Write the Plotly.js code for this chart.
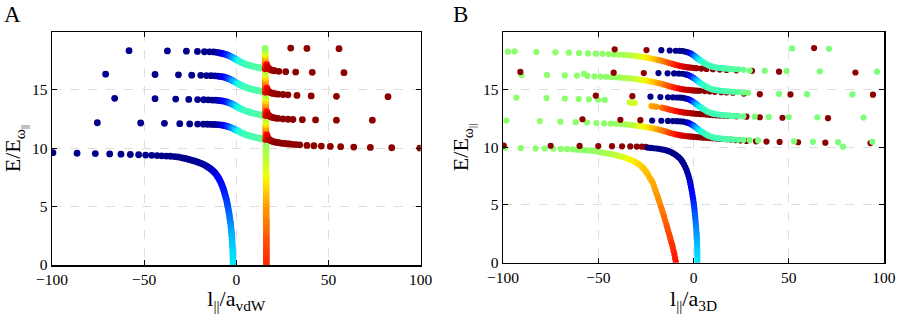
<!DOCTYPE html>
<html><head><meta charset="utf-8">
<script src="https://cdn.plot.ly/plotly-3.0.1.min.js"></script>
<style>html,body{margin:0;padding:0;background:#fff}#chart{width:897px;height:314px}</style>
</head><body><div id="chart"></div>
<script>
// ---------- tick labels / axes ----------
const xTickVals = [-100, -50, 0, 50, 100];
const yTickVals = [0, 5, 10, 15];
const xTitleA = 'l<sub>||</sub>/a<sub>vdW</sub>';
const xTitleB = 'l<sub>||</sub>/a<sub>3D</sub>';
const yTitle = 'E/E<sub>ω<sub>||</sub></sub>';
const panelLabels = ['A', 'B'];

// ---------- Panel A: rows are [l/a, E, colour value] ----------
const A_bound = [[-99.5,9.62,.01],[-86.4,9.57,.01],[-76.5,9.54,.01],[-68.7,9.51,.01],[-62.6,9.49,.01],[-57.5,9.46,.01],[-53.0,9.44,.01],[-49.2,9.41,.01],[-45.9,9.39,.01],[-43.0,9.37,.01],[-40.5,9.35,.01],[-38.0,9.33,.01],[-35.8,9.31,.01],[-33.6,9.28,.01],[-31.7,9.25,.01],[-30.0,9.2,.01],[-28.5,9.15,.01],[-27.1,9.1,.01],[-25.8,9.04,.01],[-24.5,8.98,.01],[-23.2,8.93,.02],[-22.0,8.87,.02],[-20.8,8.8,.02],[-19.6,8.73,.02],[-18.5,8.66,.03],[-17.4,8.58,.03],[-16.3,8.48,.03],[-15.3,8.38,.04],[-14.3,8.27,.05],[-13.4,8.16,.05],[-12.5,8.03,.06],[-11.7,7.9,.07],[-10.9,7.74,.08],[-10.2,7.58,.1],[-9.5,7.41,.11],[-8.9,7.23,.12],[-8.3,7.04,.13],[-7.8,6.84,.13],[-7.3,6.63,.14],[-6.8,6.41,.14],[-6.4,6.19,.15],[-6.0,5.96,.16],[-5.6,5.73,.17],[-5.2,5.49,.18],[-4.9,5.25,.19],[-4.6,5.0,.2],[-4.3,4.74,.21],[-4.0,4.47,.22],[-3.7,4.2,.23],[-3.5,3.93,.24],[-3.2,3.65,.25],[-3.0,3.37,.27],[-2.8,3.08,.28],[-2.6,2.79,.29],[-2.5,2.5,.3],[-2.3,2.2,.31],[-2.2,1.9,.32],[-2.1,1.6,.32],[-2.0,1.3,.33],[-1.9,1.0,.34],[-1.85,0.7,.34],[-1.8,0.4,.35],[-1.75,0.1,.35]];
const A_left1 = [[-75.4,12.18,.01],[-51.9,12.16,.01],[-39.0,12.13,.01],[-30.7,12.1,.01],[-25.3,12.08,.01],[-21.0,12.07,.01],[-17.9,12.06,.01],[-15.7,12.05,.01],[-13.7,12.04,.01],[-11.9,12.03,.02],[-10.3,12.02,.02],[-8.9,12.0,.05],[-7.6,11.97,.08],[-6.4,11.93,.11],[-5.2,11.88,.15],[-4.1,11.83,.19],[-3.0,11.77,.23],[-1.9,11.7,.27],[-0.8,11.61,.31],[0.3,11.52,.35],[1.4,11.43,.38],[2.5,11.34,.4],[3.6,11.26,.41],[4.7,11.19,.42],[5.9,11.12,.43],[7.1,11.06,.43],[8.3,11.01,.44],[9.5,10.96,.44],[10.7,10.91,.44],[11.9,10.87,.45],[13.1,10.83,.45],[14.3,10.79,.46],[15.3,10.76,.47]];
const A_left2 = [[-66.0,14.27,.01],[-44.1,14.24,.01],[-32.9,14.21,.01],[-25.8,14.18,.01],[-21.0,14.16,.01],[-17.7,14.15,.01],[-15.2,14.14,.01],[-13.0,14.12,.01],[-11.2,14.11,.02],[-9.8,14.1,.03],[-8.9,14.08,.05],[-7.6,14.05,.08],[-6.4,14.01,.11],[-5.2,13.96,.15],[-4.1,13.9,.19],[-3.0,13.83,.23],[-1.9,13.75,.27],[-0.8,13.66,.31],[0.3,13.56,.35],[1.4,13.46,.38],[2.5,13.37,.4],[3.6,13.29,.41],[4.7,13.22,.42],[5.9,13.15,.43],[7.1,13.09,.43],[8.3,13.04,.44],[9.5,12.99,.44],[10.7,12.94,.44],[11.9,12.9,.45],[13.1,12.86,.45],[14.3,12.82,.46],[15.3,12.79,.47]];
const A_left3 = [[-70.9,16.34,.01],[-44.1,16.31,.01],[-31.4,16.28,.01],[-24.2,16.25,.01],[-19.3,16.24,.01],[-16.2,16.22,.01],[-13.7,16.21,.01],[-11.6,16.2,.02],[-10.0,16.18,.03],[-8.9,16.15,.05],[-7.6,16.12,.08],[-6.4,16.08,.11],[-5.2,16.02,.15],[-4.1,15.95,.19],[-3.0,15.87,.23],[-1.9,15.78,.27],[-0.8,15.68,.31],[0.3,15.58,.35],[1.4,15.48,.38],[2.5,15.39,.4],[3.6,15.31,.41],[4.7,15.24,.42],[5.9,15.17,.43],[7.1,15.11,.43],[8.3,15.06,.44],[9.5,15.01,.44],[10.7,14.97,.44],[11.9,14.93,.45],[13.1,14.89,.45],[14.3,14.85,.46],[15.3,14.82,.47]];
const A_left4 = [[-58.2,18.35,.01],[-37.4,18.33,.01],[-27.1,18.31,.01],[-21.1,18.28,.01],[-17.3,18.26,.01],[-14.5,18.25,.01],[-12.3,18.24,.01],[-10.4,18.2,.03],[-8.9,18.15,.05],[-7.6,18.11,.08],[-6.4,18.06,.11],[-5.2,18.0,.15],[-4.1,17.93,.19],[-3.0,17.85,.23],[-1.9,17.76,.27],[-0.8,17.66,.31],[0.3,17.56,.35],[1.4,17.46,.38],[2.5,17.37,.4],[3.6,17.29,.41],[4.7,17.22,.42],[5.9,17.15,.43],[7.1,17.09,.43],[8.3,17.04,.44],[9.5,16.99,.44],[10.7,16.95,.44],[11.9,16.91,.45],[13.1,16.87,.45],[14.3,16.84,.46],[15.3,16.81,.47]];
const A_vert = [[16.3,0,.87],[16.3,0.25,.87],[16.3,0.5,.86],[16.3,0.75,.86],[16.3,1,.85],[16.3,1.25,.85],[16.3,1.5,.84],[16.3,1.75,.84],[16.3,2,.83],[16.3,2.25,.83],[16.3,2.5,.82],[16.3,2.75,.81],[16.3,3,.8],[16.3,3.25,.8],[16.3,3.5,.79],[16.3,3.75,.78],[16.2,4,.78],[16.2,4.25,.77],[16.2,4.5,.76],[16.2,4.75,.76],[16.2,5,.75],[16.2,5.25,.74],[16.2,5.5,.73],[16.2,5.75,.72],[16.2,6,.71],[16.2,6.25,.7],[16.2,6.5,.69],[16.2,6.75,.68],[16.2,7,.67],[16.2,7.25,.66],[16.2,7.5,.65],[16.2,7.75,.64],[16.1,8,.63],[16.1,8.25,.62],[16.1,8.5,.61],[16.1,8.75,.6],[16.1,9,.59],[16.1,9.25,.58],[16.1,9.5,.57],[16.1,9.75,.56],[16.1,10,.55],[16.1,10.25,.54],[16.1,10.5,.53],[16.0,10.75,.92],[16.0,11.0,.88],[16.0,11.25,.84],[16.0,11.5,.79],[16.0,11.75,.74],[16.0,12.0,.68],[16.0,12.25,.62],[16.0,12.55,.57],[15.9,12.8,.92],[15.9,13.05,.88],[15.9,13.3,.84],[15.9,13.55,.79],[15.9,13.8,.74],[15.9,14.05,.68],[15.9,14.3,.62],[15.9,14.55,.57],[15.8,14.8,.92],[15.8,15.05,.88],[15.8,15.3,.84],[15.8,15.55,.79],[15.8,15.8,.74],[15.8,16.05,.68],[15.8,16.3,.62],[15.8,16.55,.57],[15.7,16.8,.92],[15.7,17.05,.88],[15.7,17.3,.82],[15.7,17.55,.76],[15.7,17.8,.7],[15.7,18.05,.64],[15.7,18.3,.58],[15.6,18.55,.53]];
const A_right1 = [[16.6,11.15,.9],[17.0,10.92,.92],[17.5,10.8,.94],[18.1,10.71,.95],[18.8,10.64,.96],[19.6,10.59,.97],[20.4,10.55,.98],[21.3,10.52,.99],[22.3,10.49,.99],[23.4,10.46,.99],[24.6,10.43,.99],[25.9,10.41,.99],[27.3,10.38,.99],[28.8,10.36,.99],[30.5,10.33,.99],[32.4,10.31,.99],[34.4,10.29,.99],[38.3,10.24,.99],[42.1,10.21,.99],[46.1,10.18,.99],[51.0,10.15,.99],[56.6,10.13,.99],[63.7,10.1,.99],[72.7,10.07,.99],[84.3,10.04,.99],[99.5,10.01,.99]];
const A_right2 = [[16.6,13.1,.9],[17.0,12.92,.92],[17.6,12.8,.94],[18.3,12.72,.95],[19.1,12.66,.96],[20.0,12.62,.97],[21.2,12.58,.98],[22.6,12.55,.99],[25.3,12.51,.99],[28.0,12.48,.99],[30.7,12.46,.99],[35.8,12.44,.99],[43.0,12.42,.99],[54.3,12.4,.99],[73.8,12.4,.99]];
const A_right3 = [[16.6,15.15,.9],[17.0,14.97,.92],[17.6,14.85,.94],[18.3,14.77,.95],[19.1,14.72,.96],[20.0,14.69,.97],[21.2,14.66,.98],[22.6,14.63,.99],[25.3,14.6,.99],[28.0,14.57,.99],[32.9,14.52,.99],[40.6,14.48,.99],[54.3,14.44,.99],[82.3,14.41,.99]];
const A_right4 = [[16.5,17.15,.9],[16.9,16.96,.92],[17.5,16.83,.94],[18.1,16.75,.95],[18.9,16.7,.96],[19.8,16.66,.97],[20.8,16.63,.98],[23.1,16.58,.99],[26.8,16.55,.99],[32.2,16.52,.99],[41.2,16.5,.99],[58.4,16.47,.99]];
const A_right5 = [[29.5,18.57,.99],[38.3,18.54,.99],[55.7,18.52,.99]];

// ---------- Panel B ----------
const B_g0 = [[-99.1,9.93,.52],[-90.7,9.91,.52],[-82.9,9.89,.52],[-78.1,9.88,.52],[-73.6,9.86,.52],[-69.7,9.84,.52],[-66.4,9.82,.52],[-63.4,9.8,.52],[-61.0,9.78,.52],[-58.9,9.76,.52],[-57.0,9.74,.52],[-55.2,9.72,.52],[-53.6,9.69,.53],[-52.1,9.66,.53],[-50.6,9.62,.53],[-49.2,9.57,.54],[-47.8,9.53,.54],[-46.4,9.49,.55],[-45.0,9.45,.55],[-43.6,9.41,.56],[-42.3,9.36,.57],[-41.0,9.31,.58],[-39.7,9.26,.59],[-38.4,9.2,.6],[-37.1,9.14,.61],[-35.9,9.08,.62],[-34.8,9.02,.63],[-33.7,8.95,.64],[-32.7,8.88,.65],[-31.7,8.8,.65],[-30.8,8.73,.66],[-29.9,8.65,.67],[-29.1,8.56,.67],[-28.3,8.47,.68],[-27.6,8.38,.68],[-26.9,8.27,.69],[-26.3,8.16,.69],[-25.7,8.04,.7],[-25.1,7.91,.7],[-24.5,7.77,.71],[-23.9,7.62,.71],[-23.0,7.35,.72],[-22.1,7.12,.72],[-21.3,6.9,.73],[-20.8,6.65,.73],[-20.3,6.4,.74],[-19.8,6.15,.74],[-19.2,5.9,.75],[-18.7,5.65,.75],[-18.2,5.4,.76],[-17.7,5.17,.76],[-17.2,4.9,.77],[-16.7,4.65,.78],[-16.2,4.4,.78],[-15.7,4.15,.79],[-15.3,3.9,.8],[-14.8,3.6,.8],[-14.2,3.3,.81],[-13.8,3.05,.82],[-13.4,2.8,.82],[-12.9,2.55,.83],[-12.5,2.29,.84],[-12.1,2.05,.84],[-11.7,1.8,.85],[-11.2,1.55,.86],[-10.8,1.29,.86],[-10.4,1.0,.87],[-10.0,0.7,.88],[-9.7,0.4,.88],[-9.3,0.1,.89]];
const B_r0 = [[-99.6,10.13,.99],[-75.0,10.12,.99],[-59.8,10.1,.99],[-50.0,10.09,.99],[-42.8,10.08,.99],[-37.5,10.07,.99],[-33.2,10.06,.99],[-29.8,10.05,.99],[-27.1,10.04,.99],[-25.1,10.02,.99],[-23.9,9.95,.01],[-22.3,9.93,.01],[-20.7,9.9,.01],[-19.1,9.87,.01],[-17.5,9.83,.01],[-15.9,9.78,.01],[-14.4,9.72,.01],[-13.0,9.65,.01],[-11.8,9.57,.01],[-10.8,9.48,.01],[-9.8,9.38,.01],[-8.9,9.27,.01],[-8.0,9.15,.01],[-7.2,9.03,.01],[-6.4,8.87,.01],[-5.7,8.7,.01],[-5.0,8.5,.01],[-4.3,8.27,.02],[-3.7,8.04,.02],[-3.2,7.8,.03],[-2.7,7.55,.04],[-2.3,7.3,.05],[-1.9,7.05,.06],[-1.6,6.8,.08],[-1.3,6.55,.09],[-1.0,6.3,.1],[-0.7,6.03,.12],[-0.45,5.76,.13],[-0.2,5.5,.14],[0.05,5.23,.16],[0.25,4.96,.17],[0.45,4.7,.18],[0.6,4.43,.19],[0.75,4.16,.21],[0.9,3.9,.22],[1.05,3.63,.23],[1.2,3.36,.24],[1.35,3.1,.25],[1.5,2.83,.26],[1.6,2.56,.27],[1.7,2.3,.28],[1.78,2.03,.29],[1.85,1.77,.3],[1.9,1.5,.31],[1.95,1.23,.32],[2.0,0.96,.33],[2.02,0.7,.33],[2.04,0.43,.34],[2.05,0.16,.35]];
const B_g1 = [[-98.2,12.3,.52],[-80.7,12.25,.52],[-69.9,12.2,.52],[-61.8,12.16,.52],[-55.9,12.12,.52],[-51.0,12.08,.52],[-46.9,12.05,.52],[-43.5,12.03,.53],[-40.6,12.01,.53],[-38.0,11.99,.54],[-35.7,11.96,.55],[-33.6,11.93,.56],[-31.7,11.9,.58],[-29.9,11.86,.6],[-28.2,11.82,.62],[-26.6,11.78,.64],[-25.0,11.74,.65],[-23.5,11.7,.67],[-22.0,11.65,.69],[-20.6,11.6,.71],[-19.2,11.55,.73],[-17.9,11.5,.75],[-16.6,11.44,.77],[-15.3,11.38,.79],[-14.0,11.32,.81],[-12.8,11.26,.83],[-11.6,11.2,.85],[-10.4,11.15,.87],[-9.2,11.1,.88],[-8.0,11.06,.9],[-6.8,11.02,.91],[-5.6,10.99,.92],[-4.4,10.96,.93],[-3.2,10.94,.94],[-2.0,10.92,.95],[-0.8,10.9,.96],[0.4,10.88,.97],[1.8,10.87,.98],[3.3,10.85,.99],[5.0,10.82,.99],[6.8,10.8,.99],[8.5,10.78,.99],[10.2,10.76,.99],[12.0,10.74,.99],[13.8,10.72,.99],[15.6,10.7,.99],[17.3,10.68,.99],[19.5,10.65,.99],[22.0,10.61,.99],[24.6,10.57,.99],[27.8,10.53,.99],[32.8,10.5,.99],[38.3,10.48,.99],[45.2,10.45,.99],[54.9,10.42,.99],[69.2,10.38,.99],[92.9,10.35,.99]];
const B_g2 = [[-93.0,14.28,.52],[-77.2,14.24,.52],[-67.6,14.2,.52],[-60.3,14.16,.52],[-54.9,14.13,.52],[-50.1,14.1,.52],[-46.6,14.08,.52],[-33.5,13.86,.59],[-32.2,13.84,.6],[-30.9,13.82,.61],[-22.1,13.55,.73],[-20.8,13.52,.74],[-19.5,13.48,.75],[-16.6,13.42,.79],[-15.3,13.37,.81],[-14.0,13.31,.83],[-12.8,13.26,.85],[-11.6,13.21,.86],[-10.4,13.16,.87],[-9.2,13.12,.89],[-8.0,13.08,.9],[-6.8,13.04,.91],[-5.6,13.01,.92],[-4.4,12.98,.93],[-3.2,12.96,.94],[-2.0,12.94,.95],[-0.8,12.92,.96],[0.4,12.9,.97],[1.8,12.88,.98],[3.3,12.86,.99],[5.0,12.84,.99],[6.8,12.81,.99],[8.5,12.79,.99],[10.2,12.77,.99],[12.0,12.75,.99],[13.8,12.73,.99],[15.9,12.71,.99],[18.1,12.69,.99],[22.5,12.66,.99],[27.8,12.63,.99],[34.8,12.58,.99],[46.7,12.54,.99],[70.6,12.5,.99]];
const B_g3 = [[-90.3,16.23,.52],[-76.9,16.23,.52],[-67.6,16.2,.52],[-61.2,16.18,.52],[-57.5,16.33,.52],[-55.7,16.15,.52],[-52.0,16.12,.52],[-48.8,16.1,.52],[-46.0,16.08,.52],[-43.5,16.06,.53],[-41.1,16.04,.53],[-38.9,16.02,.54],[-36.8,15.99,.55],[-34.8,15.96,.56],[-32.8,15.93,.57],[-31.0,15.9,.58],[-29.3,15.86,.6],[-27.7,15.82,.62],[-26.1,15.78,.64],[-24.6,15.74,.65],[-23.1,15.7,.67],[-21.6,15.65,.69],[-20.2,15.6,.71],[-18.8,15.55,.73],[-17.5,15.5,.75],[-16.2,15.44,.77],[-14.9,15.38,.79],[-13.6,15.32,.81],[-12.4,15.26,.83],[-11.2,15.2,.85],[-10.0,15.15,.87],[-8.8,15.1,.88],[-7.6,15.06,.9],[-6.4,15.02,.91],[-5.2,14.99,.92],[-4.0,14.96,.93],[-2.8,14.94,.94],[-1.6,14.92,.95],[-0.4,14.9,.96],[0.8,14.89,.97],[2.0,14.88,.98],[3.3,14.87,.99],[5.9,14.84,.99],[8.5,14.81,.99],[11.2,14.78,.99],[14.6,14.75,.99],[17.3,14.72,.99],[20.7,14.7,.99],[26.4,14.63,.99],[34.8,14.58,.99],[50.9,14.55,.99],[94.2,14.53,.99]];
const B_g4 = [[-97.4,18.25,.52],[-93.9,18.27,.52],[-82.5,18.22,.52],[-72.5,18.19,.52],[-65.5,18.16,.52],[-60.1,18.13,.52],[-55.4,18.1,.52],[-51.3,18.08,.52],[-47.8,18.06,.52],[-44.6,18.04,.53],[-41.8,18.02,.53],[-39.2,18.0,.54],[-36.8,17.98,.55],[-34.6,17.95,.56],[-32.6,17.92,.57],[-30.8,17.89,.58],[-29.1,17.85,.6],[-27.5,17.81,.62],[-25.9,17.77,.64],[-24.4,17.73,.65],[-22.9,17.69,.67],[-21.4,17.64,.69],[-20.0,17.59,.71],[-18.6,17.54,.73],[-17.3,17.49,.75],[-16.0,17.43,.77],[-14.7,17.37,.79],[-13.4,17.31,.81],[-12.2,17.25,.83],[-11.0,17.19,.85],[-9.8,17.13,.87],[-8.6,17.08,.88],[-7.4,17.03,.9],[-6.2,16.99,.91],[-5.0,16.95,.92],[-3.8,16.92,.93],[-2.6,16.89,.94],[-1.4,16.87,.95],[0.0,16.85,.96],[1.5,16.82,.97],[4.1,16.79,.99],[6.8,16.76,.99],[10.2,16.73,.99],[13.8,16.7,.99],[17.3,16.67,.99],[22.5,16.64,.99],[30.7,16.59,.99],[44.9,16.52,.99],[85.0,16.45,.99]];
const B_r1 = [[-58.3,12.41,.99],[-38.4,12.36,.99],[-27.9,12.33,.99],[-21.7,12.3,.01],[-16.9,12.28,.01],[-13.4,12.26,.01],[-10.8,12.25,.01],[-8.7,12.24,.01],[-7.0,12.23,.01],[-5.5,12.21,.01],[-4.0,12.15,.01],[-3.0,12.11,.03],[-2.0,12.04,.08],[-1.0,11.95,.14],[0.0,11.85,.2],[1.0,11.73,.26],[2.0,11.6,.31],[3.0,11.47,.35],[4.0,11.36,.38],[5.0,11.26,.4],[6.0,11.15,.41],[7.0,11.05,.42],[8.0,10.97,.43],[9.0,10.91,.43],[10.0,10.86,.43],[11.0,10.82,.43],[12.2,10.79,.43],[13.4,10.76,.43],[14.7,10.74,.43],[16.1,10.71,.44],[17.6,10.69,.44],[19.3,10.67,.45],[21.2,10.65,.45],[23.5,10.63,.46],[26.2,10.61,.48],[29.5,10.6,.5],[33.9,10.58,.5],[52.8,10.5,.5],[62.7,10.46,.5],[75.9,10.43,.5],[78.5,10.04,.5],[93.9,10.46,.5]];
const B_r2 = [[-51.3,14.45,.99],[-32.1,14.4,.99],[-22.6,14.36,.01],[-17.4,14.33,.01],[-13.4,14.31,.01],[-10.8,14.3,.01],[-8.7,14.29,.01],[-7.0,14.28,.01],[-5.5,14.26,.01],[-4.0,14.2,.01],[-3.0,14.16,.03],[-2.0,14.09,.08],[-1.0,14.0,.14],[0.0,13.9,.2],[1.0,13.78,.26],[2.0,13.65,.31],[3.0,13.52,.35],[4.0,13.41,.38],[5.0,13.31,.4],[6.0,13.2,.41],[7.0,13.1,.42],[8.0,13.02,.43],[9.0,12.96,.43],[10.0,12.91,.43],[11.0,12.87,.43],[12.2,12.84,.43],[13.4,12.81,.43],[14.7,12.79,.43],[16.1,12.76,.44],[17.6,12.74,.44],[19.3,12.72,.45],[21.2,12.7,.45],[23.5,12.68,.46],[26.2,12.66,.48],[32.1,12.63,.5],[39.5,12.6,.5],[50.0,12.6,.5],[65.0,12.58,.5],[89.3,12.55,.5]];
const B_r3 = [[-90.9,16.5,.99],[-41.9,16.43,.99],[-26.1,16.4,.99],[-18.4,16.4,.01],[-13.6,16.38,.01],[-10.2,16.37,.01],[-7.8,16.36,.01],[-5.8,16.34,.01],[-4.0,16.28,.01],[-3.0,16.24,.03],[-2.0,16.17,.08],[-1.0,16.08,.14],[0.0,15.98,.2],[1.0,15.86,.26],[2.0,15.73,.31],[3.0,15.6,.35],[4.0,15.49,.38],[5.0,15.39,.4],[6.0,15.28,.41],[7.0,15.18,.42],[8.0,15.1,.43],[9.0,15.04,.43],[10.0,14.99,.43],[11.0,14.95,.43],[12.2,14.92,.43],[13.4,14.89,.43],[14.7,14.87,.43],[16.1,14.84,.44],[17.6,14.82,.44],[19.3,14.8,.45],[21.2,14.78,.45],[23.5,14.76,.46],[26.2,14.72,.48],[28.6,14.68,.5],[44.9,14.6,.5],[59.6,14.58,.5],[83.4,14.55,.5]];
const B_r4 = [[-41.4,18.45,.99],[-24.7,18.39,.99],[-16.9,18.38,.01],[-12.5,18.35,.01],[-9.3,18.33,.01],[-7.2,18.32,.01],[-5.5,18.3,.01],[-4.0,18.24,.01],[-3.0,18.2,.03],[-2.0,18.13,.08],[-1.0,18.04,.14],[0.0,17.94,.2],[1.0,17.82,.26],[2.0,17.69,.31],[3.0,17.56,.35],[4.0,17.45,.38],[5.0,17.35,.4],[6.0,17.24,.41],[7.0,17.14,.42],[8.0,17.06,.43],[9.0,17.0,.43],[10.0,16.95,.43],[11.0,16.91,.43],[12.2,16.88,.43],[13.4,16.85,.43],[14.7,16.83,.43],[16.1,16.8,.44],[17.6,16.78,.44],[19.3,16.76,.45],[21.2,16.74,.45],[23.5,16.72,.46],[26.2,16.68,.48],[29.5,16.62,.5],[37.4,16.6,.5],[48.8,16.58,.5],[66.3,16.55,.5],[96.3,16.52,.5]];
const B_top = [[51.7,18.53,.5],[63.3,18.56,.99],[71.1,18.5,.5]];

// ---------- styling ----------
const JET = [[0,'rgb(0,0,128)'],[0.11,'rgb(0,0,255)'],[0.125,'rgb(0,0,255)'],[0.34,'rgb(0,219,255)'],[0.35,'rgb(0,229,247)'],[0.375,'rgb(20,255,226)'],[0.64,'rgb(239,255,8)'],[0.65,'rgb(247,245,0)'],[0.66,'rgb(255,236,0)'],[0.89,'rgb(255,19,0)'],[0.91,'rgb(232,0,0)'],[1,'rgb(128,0,0)']];
const SERIF = 'Liberation Serif, Times New Roman, serif';

function trace(rows, xa, ya, size) {
  return {
    type: 'scatter', mode: 'markers', xaxis: xa, yaxis: ya,
    x: rows.map(r => r[0]), y: rows.map(r => r[1]),
    marker: {size: size, color: rows.map(r => r[2]), colorscale: JET, cmin: 0, cmax: 1, showscale: false, line: {width: 0}},
    hoverinfo: 'skip', showlegend: false
  };
}
const traces = [];
[A_bound, A_left1, A_left2, A_left3, A_left4, A_vert, A_right1, A_right2, A_right3, A_right4, A_right5]
  .forEach(r => traces.push(trace(r, 'x', 'y', 6.8)));
[B_g0, B_r0, B_g1, B_g2, B_g3, B_g4, B_r1, B_r2, B_r3, B_r4, B_top]
  .forEach(r => traces.push(trace(r, 'x2', 'y2', 6.2)));

function xAxis(domain, anchor, title) {
  return {domain: domain, anchor: anchor, range: [-100, 100], tickvals: xTickVals,
    ticks: 'inside', ticklen: 5, tickwidth: 1, tickcolor: '#000',
    showline: true, linecolor: '#000', linewidth: 1.5, mirror: 'ticks',
    showgrid: true, gridcolor: '#dedede', griddash: 'dash', gridwidth: 1, zeroline: false,
    tickfont: {family: SERIF, size: 15.5, color: '#000'},
    title: {text: title, font: {family: SERIF, size: 22, color: '#000'}, standoff: 4},
    fixedrange: true};
}
function yAxis(domain, anchor) {
  return {domain: domain, anchor: anchor, range: [0, 19.95], tickvals: yTickVals,
    ticks: 'inside', ticklen: 5, tickwidth: 1, tickcolor: '#000',
    showline: true, linecolor: '#000', linewidth: 1.5, mirror: 'ticks',
    showgrid: true, gridcolor: '#dedede', griddash: 'dash', gridwidth: 1, zeroline: false,
    tickfont: {family: SERIF, size: 15.5, color: '#000'},
    title: {text: yTitle, font: {family: SERIF, size: 22, color: '#000'}, standoff: 8},
    fixedrange: true};
}

const layout = {
  width: 897, height: 314,
  margin: {l: 52.3, r: 12.7, t: 32.3, b: 48.5},
  paper_bgcolor: '#fff', plot_bgcolor: '#fff',
  showlegend: false,
  xaxis: xAxis([0, 0.4431], 'y', xTitleA),
  yaxis: yAxis([0, 1], 'x'),
  xaxis2: xAxis([0.5421, 1], 'y2', xTitleB),
  yaxis2: yAxis([0.0094, 1], 'x2'),
  annotations: [
    {text: panelLabels[0], xref: 'paper', yref: 'paper', x: -0.0605, y: 1.075, xanchor: 'left', yanchor: 'middle', showarrow: false, font: {family: SERIF, size: 23, color: '#000'}},
    {text: panelLabels[1], xref: 'paper', yref: 'paper', x: 0.4792, y: 1.075, xanchor: 'left', yanchor: 'middle', showarrow: false, font: {family: SERIF, size: 23, color: '#000'}}
  ]
};
Plotly.newPlot('chart', traces, layout, {displayModeBar: false, staticPlot: true});
</script>
</body></html>
